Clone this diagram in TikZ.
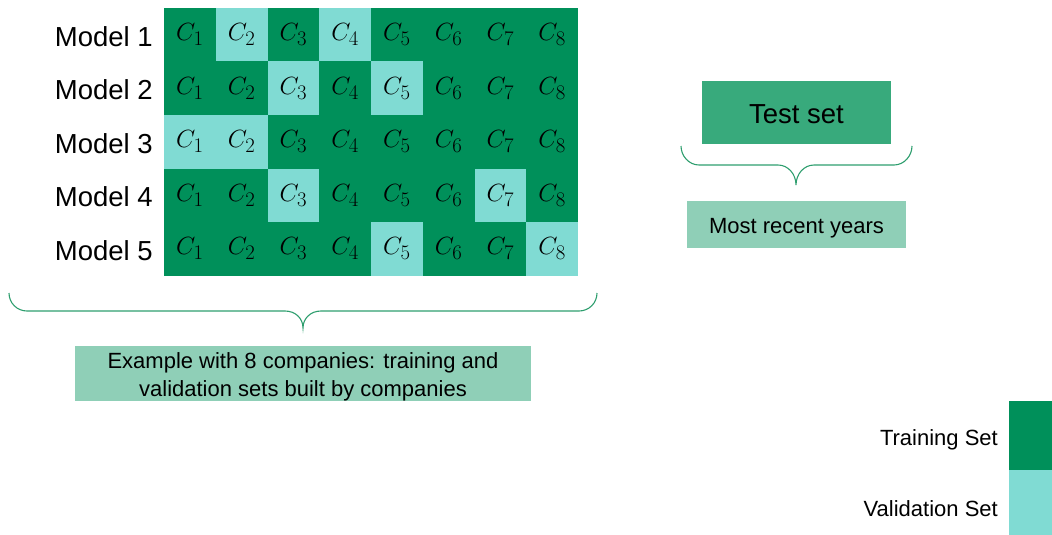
\documentclass[tikz,border=0pt]{standalone}
\usepackage{fontspec}
\setmainfont{Liberation Sans}
\definecolor{train}{HTML}{00905A}
\definecolor{valid}{HTML}{80DBD3}
\definecolor{testc}{HTML}{38AA7C}
\definecolor{mint}{HTML}{8FCFB7}
\definecolor{bracec}{HTML}{2E9E6E}
\newcommand{\droptext}[2]{\raisebox{-#1}[\height][\depth]{#2}}
\tikzset{
  cell/.style={inner sep=0pt, minimum width=51.75pt, minimum height=53.5pt, font=\fontsize{28}{32}\selectfont},
  trcell/.style={cell, fill=train},
  vacell/.style={cell, fill=valid},
  modellabel/.style={anchor=east, inner sep=0pt, font=\fontsize{27.5}{33}\selectfont},
  bracepath/.style={draw=bracec, line width=1.1pt},
  notebox/.style={fill=mint, inner sep=0pt, align=center, font=\fontsize{22}{28}\selectfont},
  legendtext/.style={anchor=east, inner sep=0pt, font=\fontsize{22}{26}\selectfont},
  legendbox/.style={inner sep=0pt, anchor=north west}
}
\begin{document}
\begin{tikzpicture}[x=1pt,y=-1pt]
\useasboundingbox (0,0) rectangle (1052,535);
% grid
\foreach \r/\va/\vb in {1/2/4, 2/3/5, 3/1/2, 4/3/7, 5/5/8} {
  \node[modellabel] (m\r) at (153, {9.5+53.5*(\r-0.5)}) {Model \r};
  \foreach \c in {1,...,8} {
    \pgfmathtruncatemacro{\isv}{(\c==\va)||(\c==\vb)}
    \ifnum\isv=1
      \node[vacell] (c\r\c) at ({164+51.75*(\c-0.5)}, {8+53.5*(\r-0.5)}) {$C_{\c}$};
    \else
      \node[trcell] (c\r\c) at ({164+51.75*(\c-0.5)}, {8+53.5*(\r-0.5)}) {$C_{\c}$};
    \fi
  }
}
% big brace
\draw[bracepath] (9,293) .. controls (9,303) and (17,311) .. (27,311) -- (285,311)
  .. controls (295,311) and (303,318) .. (303,328)
  .. controls (303,318) and (311,311) .. (321,311) -- (579,311)
  .. controls (589,311) and (597,303) .. (597,293);
\node[notebox, minimum width=456pt, minimum height=55pt] (example) at (303,373.5)
  {\droptext{3pt}{Example with 8 companies: training and}\\\droptext{3pt}{validation sets built by companies}};
% test set
\node[fill=testc, inner sep=0pt, minimum width=189pt, minimum height=63pt, font=\fontsize{27.5}{33}\selectfont] (test) at (796.5,112.5) {\droptext{2pt}{Test set}};
\draw[bracepath] (681,146) .. controls (681,156) and (689,165) .. (699,165) -- (778,165)
  .. controls (788,165) and (796,174) .. (796,185)
  .. controls (796,174) and (804,165) .. (814,165) -- (894,165)
  .. controls (904,165) and (912,156) .. (912,146);
\node[notebox, minimum width=219pt, minimum height=47pt] (recent) at (796.5,224.5) {\droptext{3.5pt}{Most recent years}};
% legend
\node[legendbox, fill=train, minimum width=43pt, minimum height=69pt] (legtr) at (1009,401) {};
\node[legendbox, fill=valid, minimum width=43pt, minimum height=65pt] (legva) at (1009,470) {};
\node[legendtext] (ltr) at (998,440) {Training Set};
\node[legendtext] (lva) at (998,509) {Validation Set};
\end{tikzpicture}
\end{document}
